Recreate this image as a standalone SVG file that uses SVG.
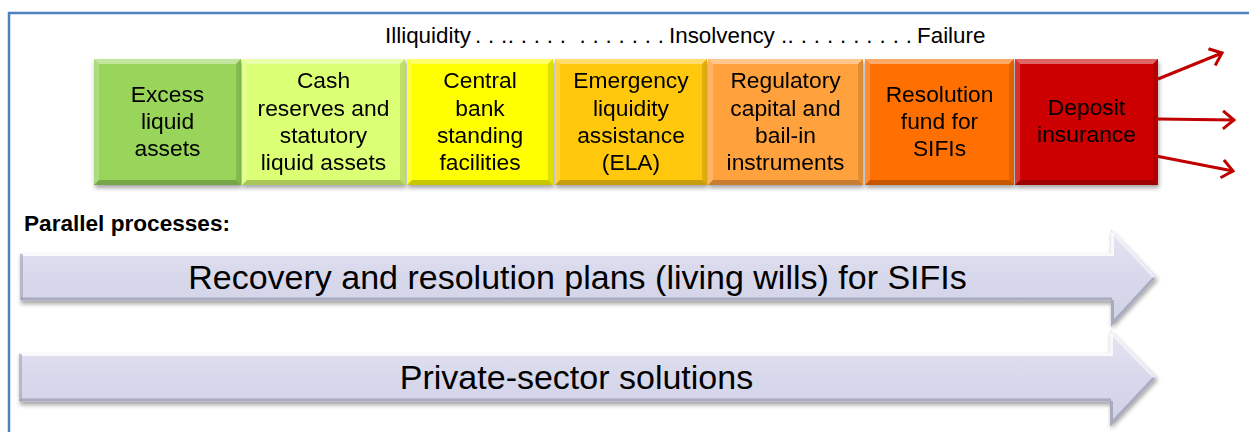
<svg xmlns="http://www.w3.org/2000/svg" width="1249" height="432" viewBox="0 0 1249 432">
<style>
text{font-family:"Liberation Sans",Arial,sans-serif;fill:#000}
.bt{font-size:22.8px;text-anchor:middle}
.top{font-size:22.4px}
.lbl{font-size:22.6px;font-weight:bold}
.at{font-size:34px;text-anchor:middle}
.hl{fill:#fff;fill-opacity:.4}
.hl2{fill:#fff;fill-opacity:.2}
.dk{fill:#000;fill-opacity:.22}
.dk2{fill:#000;fill-opacity:.12}
.red{stroke:#C00000;stroke-width:3;fill:none}
.big{fill:url(#lav);filter:url(#sh)}
</style>
<defs>
<filter id="sh" x="-5%" y="-20%" width="110%" height="150%">
<feDropShadow dx="1" dy="3" stdDeviation="2" flood-color="#000" flood-opacity=".35"/>
</filter>
<linearGradient id="lav" x1="0" y1="0" x2="0" y2="1">
<stop offset="0" stop-color="#E4E4F2"/>
<stop offset=".5" stop-color="#D8D8EC"/>
<stop offset="1" stop-color="#D2D2E6"/>
</linearGradient>
<marker id="ah" viewBox="0 0 14 20" refX="12" refY="10" markerWidth="14" markerHeight="20" markerUnits="userSpaceOnUse" orient="auto">
<path d="M1,1 L12,10 L1,19" fill="none" stroke="#C00000" stroke-width="3"/>
</marker>
</defs>

<path d="M1249,13 H9 V432" fill="none" stroke="#4F81BD" stroke-width="2.5"/>

<text class="top" y="43" xml:space="preserve"><tspan x="385">Illiquidity</tspan><tspan x="475" textLength="189" lengthAdjust="spacing">. . .. . . . .  . . . . . . .</tspan><tspan x="669">Insolvency</tspan><tspan x="781" textLength="131" lengthAdjust="spacing">.. . . . . . . . . .</tspan><tspan x="917">Failure</tspan></text>

<g id="box1" filter="url(#sh)">
<rect x="94" y="59" width="147" height="126" fill="#98D55A"/>
<polygon class="hl" points="94,59 241,59 236,64 99,64"/>
<polygon class="hl2" points="94,59 99,64 99,180 94,185"/>
<polygon class="dk" points="94,185 99,180 236,180 241,185"/>
<polygon class="dk2" points="241,59 241,185 236,180 236,64"/>
<text class="bt" x="167.5" y="102">Excess</text>
<text class="bt" x="167.5" y="129">liquid</text>
<text class="bt" x="167.5" y="156">assets</text>
</g>
<g id="box2" filter="url(#sh)">
<rect x="242" y="59" width="163" height="126" fill="#DBFF74"/>
<polygon class="hl" points="242,59 405,59 400,64 247,64"/>
<polygon class="hl2" points="242,59 247,64 247,180 242,185"/>
<polygon class="dk" points="242,185 247,180 400,180 405,185"/>
<polygon class="dk2" points="405,59 405,185 400,180 400,64"/>
<text class="bt" x="323.5" y="88">Cash</text>
<text class="bt" x="323.5" y="115.5">reserves and</text>
<text class="bt" x="323.5" y="143">statutory</text>
<text class="bt" x="323.5" y="170">liquid assets</text>
</g>
<g id="box3" filter="url(#sh)">
<rect x="407" y="59" width="146" height="126" fill="#FFFF00"/>
<polygon class="hl" points="407,59 553,59 548,64 412,64"/>
<polygon class="hl2" points="407,59 412,64 412,180 407,185"/>
<polygon class="dk" points="407,185 412,180 548,180 553,185"/>
<polygon class="dk2" points="553,59 553,185 548,180 548,64"/>
<text class="bt" x="480" y="88">Central</text>
<text class="bt" x="480" y="115.5">bank</text>
<text class="bt" x="480" y="143">standing</text>
<text class="bt" x="480" y="170">facilities</text>
</g>
<g id="box4" filter="url(#sh)">
<rect x="555" y="59" width="152" height="126" fill="#FFC80A"/>
<polygon class="hl" points="555,59 707,59 702,64 560,64"/>
<polygon class="hl2" points="555,59 560,64 560,180 555,185"/>
<polygon class="dk" points="555,185 560,180 702,180 707,185"/>
<polygon class="dk2" points="707,59 707,185 702,180 702,64"/>
<text class="bt" x="631" y="88">Emergency</text>
<text class="bt" x="631" y="115.5">liquidity</text>
<text class="bt" x="631" y="143">assistance</text>
<text class="bt" x="631" y="170">(ELA)</text>
</g>
<g id="box5" filter="url(#sh)">
<rect x="708" y="59" width="155" height="126" fill="#FFA23E"/>
<polygon class="hl" points="708,59 863,59 858,64 713,64"/>
<polygon class="hl2" points="708,59 713,64 713,180 708,185"/>
<polygon class="dk" points="708,185 713,180 858,180 863,185"/>
<polygon class="dk2" points="863,59 863,185 858,180 858,64"/>
<text class="bt" x="785.5" y="88">Regulatory</text>
<text class="bt" x="785.5" y="115.5">capital and</text>
<text class="bt" x="785.5" y="143">bail-in</text>
<text class="bt" x="785.5" y="170">instruments</text>
</g>
<g id="box6" filter="url(#sh)">
<rect x="865" y="59" width="149" height="126" fill="#FF7006"/>
<polygon class="hl" points="865,59 1014,59 1009,64 870,64"/>
<polygon class="hl2" points="865,59 870,64 870,180 865,185"/>
<polygon class="dk" points="865,185 870,180 1009,180 1014,185"/>
<polygon class="dk2" points="1014,59 1014,185 1009,180 1009,64"/>
<text class="bt" x="939.5" y="102">Resolution</text>
<text class="bt" x="939.5" y="129">fund for</text>
<text class="bt" x="939.5" y="156">SIFIs</text>
</g>
<g id="box7" filter="url(#sh)">
<rect x="1015" y="59" width="143" height="126" fill="#CC0000"/>
<polygon class="hl" points="1015,59 1158,59 1153,64 1020,64"/>
<polygon class="hl2" points="1015,59 1020,64 1020,180 1015,185"/>
<polygon class="dk" points="1015,185 1020,180 1153,180 1158,185"/>
<polygon class="dk2" points="1158,59 1158,185 1153,180 1153,64"/>
<text class="bt" x="1086.5" y="115">Deposit</text>
<text class="bt" x="1086.5" y="142">insurance</text>
</g>

<g id="connectors">
<line class="red" x1="1158" y1="79" x2="1222" y2="53" marker-end="url(#ah)"/>
<line class="red" x1="1158" y1="119" x2="1234" y2="120" marker-end="url(#ah)"/>
<line class="red" x1="1156" y1="156" x2="1233" y2="171" marker-end="url(#ah)"/>
</g>

<text class="lbl" x="24" y="231">Parallel processes:</text>

<g id="arrow1">
<polygon class="big" points="20,253 1111,253 1111,229 1157,277 1111,326 1111,301 20,301"/>
<polyline points="21,254.5 1112.5,254.5 1112.5,233" fill="none" stroke="#fff" stroke-opacity=".8" stroke-width="3"/>
<polyline points="1112,232 1154,277" fill="none" stroke="#fff" stroke-opacity=".5" stroke-width="3"/>
<polyline points="21,299 1112,299" fill="none" stroke="#9898AE" stroke-opacity=".7" stroke-width="3"/>
<polyline points="1112.5,300 1112.5,323 1154,278" fill="none" stroke="#9898AE" stroke-opacity=".7" stroke-width="3"/>
<polyline points="21.5,254 21.5,300" fill="none" stroke="#A0A0B8" stroke-opacity=".6" stroke-width="3"/>
<text class="at" x="577.5" y="289">Recovery and resolution plans (living wills) for SIFIs</text>
</g>
<g id="arrow2">
<polygon class="big" points="19,353 1110,353 1110,330 1157,377 1110,426 1110,402 19,402"/>
<polyline points="20,354.5 1111.5,354.5 1111.5,334" fill="none" stroke="#fff" stroke-opacity=".8" stroke-width="3"/>
<polyline points="1111,333 1154,377" fill="none" stroke="#fff" stroke-opacity=".5" stroke-width="3"/>
<polyline points="20,400 1111,400" fill="none" stroke="#9898AE" stroke-opacity=".7" stroke-width="3"/>
<polyline points="1111.5,401 1111.5,423 1154,378" fill="none" stroke="#9898AE" stroke-opacity=".7" stroke-width="3"/>
<polyline points="20.5,354 20.5,401" fill="none" stroke="#A0A0B8" stroke-opacity=".6" stroke-width="3"/>
<text class="at" x="576.5" y="389">Private-sector solutions</text>
</g>
</svg>
